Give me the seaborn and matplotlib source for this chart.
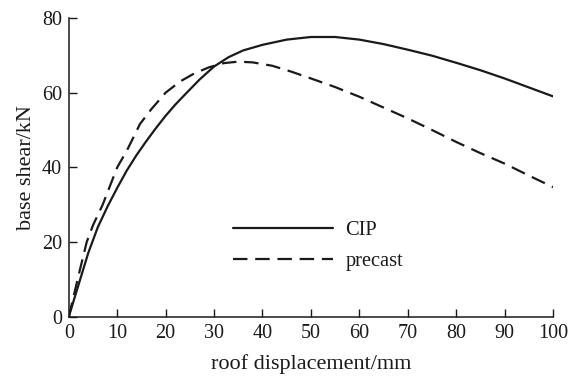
import matplotlib
matplotlib.use("Agg")
import matplotlib.pyplot as plt
import seaborn as sns
import pandas as pd

cip_x = [0, 2, 4, 5, 6, 8, 10, 12, 14, 16, 18, 20, 22, 24, 27, 30, 33, 36, 40, 45,
         50, 55, 60, 65, 70, 75, 80, 85, 90, 95, 100]
cip_y = [0, 8.5, 17, 20.5, 24, 29.5, 34.5, 39.2, 43.3, 47, 50.5, 53.8, 56.8, 59.5, 63.5,
         67, 69.5, 71.3, 72.8, 74.2, 74.9, 74.9, 74.2, 73, 71.5, 69.9, 68, 66, 63.8, 61.4, 59]

pre_x = [0, 2, 3.7, 5, 7, 8.5, 10, 12, 14.7, 17, 20, 23, 26, 29, 32, 35, 38, 42, 46,
         50, 55, 60, 65, 70, 75, 80, 85, 90, 95, 100]
pre_y = [0, 11, 20, 24.5, 30, 35, 40, 44.5, 51.6, 55.5, 60, 63, 65.2, 66.8, 67.9, 68.3,
         68.1, 67.2, 65.6, 63.8, 61.5, 58.9, 56, 53.1, 50, 46.8, 43.8, 41, 37.8, 34.7]

series_names = ["CIP", "precast"]
x_ticks = [0, 10, 20, 30, 40, 50, 60, 70, 80, 90, 100]
y_ticks = [0, 20, 40, 60, 80]

df = pd.concat([
    pd.DataFrame({"x": cip_x, "y": cip_y, "s": series_names[0]}),
    pd.DataFrame({"x": pre_x, "y": pre_y, "s": series_names[1]}),
])

sns.set_theme(style="ticks")
plt.rcParams["font.family"] = ["Liberation Serif", "DejaVu Serif"]

fig = plt.figure(figsize=(5.71, 3.82), dpi=100)
ax = fig.add_axes([0.1205, 0.171, 0.848, 0.782])

sns.lineplot(data=df, x="x", y="y", hue="s", style="s",
             palette=["#1a1a1a", "#1a1a1a"],
             dashes={"CIP": "", "precast": (6.5, 3.5)},
             linewidth=1.6, sort=False, estimator=None, ax=ax)

ax.set_xlim(0, 100)
ax.set_ylim(0, 80)
ax.set_xticks(x_ticks)
ax.set_yticks(y_ticks)
ax.tick_params(direction="in", length=6, width=1.0, labelsize=14.5,
               colors="#1a1a1a", pad=5)
for side in ["top", "right"]:
    ax.spines[side].set_visible(False)
for side in ["left", "bottom"]:
    ax.spines[side].set_linewidth(1.1)
    ax.spines[side].set_color("#1a1a1a")

ax.set_xlabel("roof displacement/mm", fontsize=16, color="#1a1a1a", labelpad=8)
ax.set_ylabel("base shear/kN", fontsize=16, color="#1a1a1a", labelpad=4)

leg = ax.legend(loc="upper left", bbox_to_anchor=(0.339, 0.32), frameon=False,
                fontsize=14.7, handlelength=4.9, handletextpad=0.6,
                labelspacing=0.55, borderpad=0, borderaxespad=0)
for t in leg.get_texts():
    t.set_color("#1a1a1a")

fig.savefig("out.png", dpi=100)
